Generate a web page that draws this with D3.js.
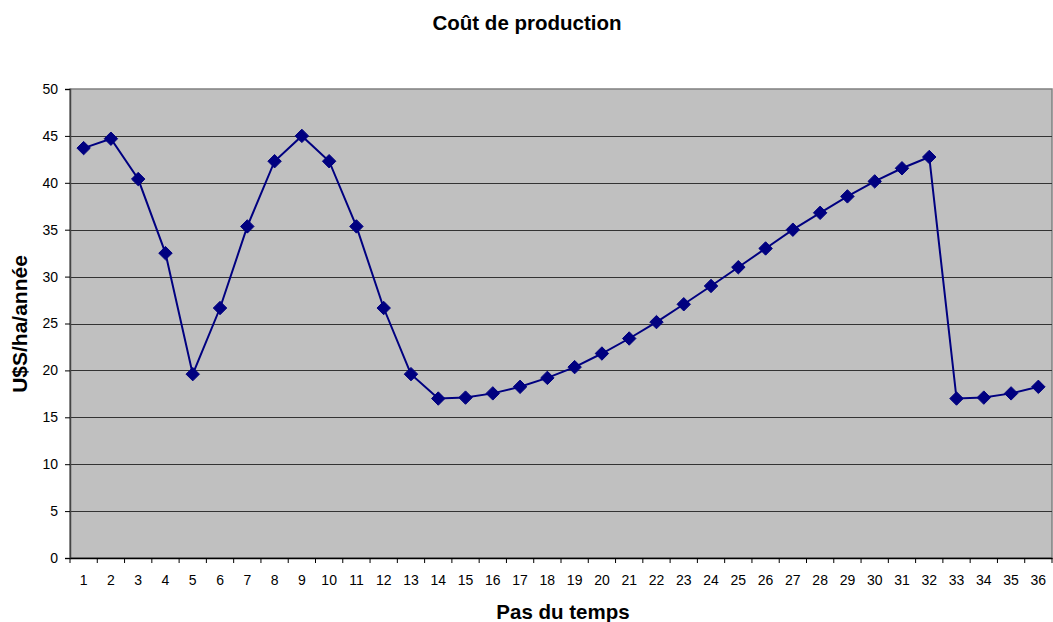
<!DOCTYPE html>
<html><head><meta charset="utf-8">
<script src="https://cdn.jsdelivr.net/npm/d3@7"></script>
<style>body{margin:0;background:#fff;} text{font-family:"Liberation Sans",Arial,sans-serif;}</style>
</head><body>
<svg id="c" width="1053" height="622"></svg>
<script>
const categories = d3.range(1, 37).map(String);
const values = [43.7, 44.7, 40.4, 32.5, 19.6, 26.65, 35.35, 42.3, 45.0, 42.3, 35.35, 26.65, 19.6, 17.0, 17.1, 17.55, 18.25, 19.2, 20.35, 21.8, 23.4, 25.15, 27.05, 29.0, 31.0, 33.0, 35.0, 36.8, 38.55, 40.15, 41.55, 42.75, 17.0, 17.1, 17.55, 18.25];
const yTicks = [0, 5, 10, 15, 20, 25, 30, 35, 40, 45, 50];
const title = "Coût de production";
const xTitle = "Pas du temps";
const yTitle = "U$S/ha/année";

const svg = d3.select("#c");
const L = 70, R = 1052, T = 89, B = 558;
const x = d3.scaleBand().domain(categories).range([L, R]);
const y = d3.scaleLinear().domain([0, 50]).range([B, T]);
const FF = '"Liberation Sans",Arial,sans-serif';

svg.append("rect").attr("x", L).attr("y", T).attr("width", R - L).attr("height", B - T)
  .attr("fill", "#c0c0c0").attr("stroke", "#808080").attr("stroke-width", 1.5);

svg.append("g").selectAll("line").data(yTicks.filter(d => d > 0 && d < 50)).join("line")
  .attr("x1", L).attr("x2", R).attr("y1", d => Math.round(y(d)) + 0.5).attr("y2", d => Math.round(y(d)) + 0.5)
  .attr("stroke", "#333").attr("stroke-width", 1);

const ya = svg.append("g").attr("transform", `translate(${L},0)`)
  .call(d3.axisLeft(y).tickValues(yTicks).tickSize(5).tickPadding(7));
ya.select(".domain").attr("stroke", "#444").attr("stroke-width", 1.5);
ya.selectAll(".tick line").attr("stroke", "#000");
ya.selectAll("text").attr("font-size", 14).attr("fill", "#000").style("font-family", FF);

const xa = svg.append("g").attr("transform", `translate(0,${B})`)
  .call(d3.axisBottom(x).tickSize(0).tickPadding(17));
xa.select(".domain").attr("stroke", "#000").attr("stroke-width", 1.5);
xa.selectAll("text").attr("font-size", 14).attr("fill", "#000").style("font-family", FF);
svg.append("g").selectAll("line").data(categories.concat(["end"])).join("line")
  .attr("x1", (d, i) => L + i * x.step()).attr("x2", (d, i) => L + i * x.step())
  .attr("y1", B).attr("y2", B + 5).attr("stroke", "#000");

const cx = (d, i) => x(categories[i]) + x.bandwidth() / 2;
svg.append("path").datum(values)
  .attr("d", d3.line().x(cx).y(d => y(d)))
  .attr("fill", "none").attr("stroke", "#000080").attr("stroke-width", 2);
svg.append("g").selectAll("path").data(values).join("path")
  .attr("transform", (d, i) => `translate(${cx(d, i)},${y(d)})`)
  .attr("d", d3.symbol(d3.symbolDiamond2 || d3.symbolDiamond, 115)())
  .attr("fill", "#000080").attr("stroke", "#000080").attr("stroke-width", 1);

svg.append("text").attr("x", 527).attr("y", 30).attr("text-anchor", "middle")
  .attr("font-size", 20.5).attr("font-weight", "bold").text(title);
svg.append("text").attr("x", 563).attr("y", 619).attr("text-anchor", "middle")
  .attr("font-size", 20.5).attr("font-weight", "bold").text(xTitle);
svg.append("text").attr("transform", "translate(27,324) rotate(-90)").attr("text-anchor", "middle")
  .attr("font-size", 21).attr("font-weight", "bold").text(yTitle);
</script>
</body></html>
